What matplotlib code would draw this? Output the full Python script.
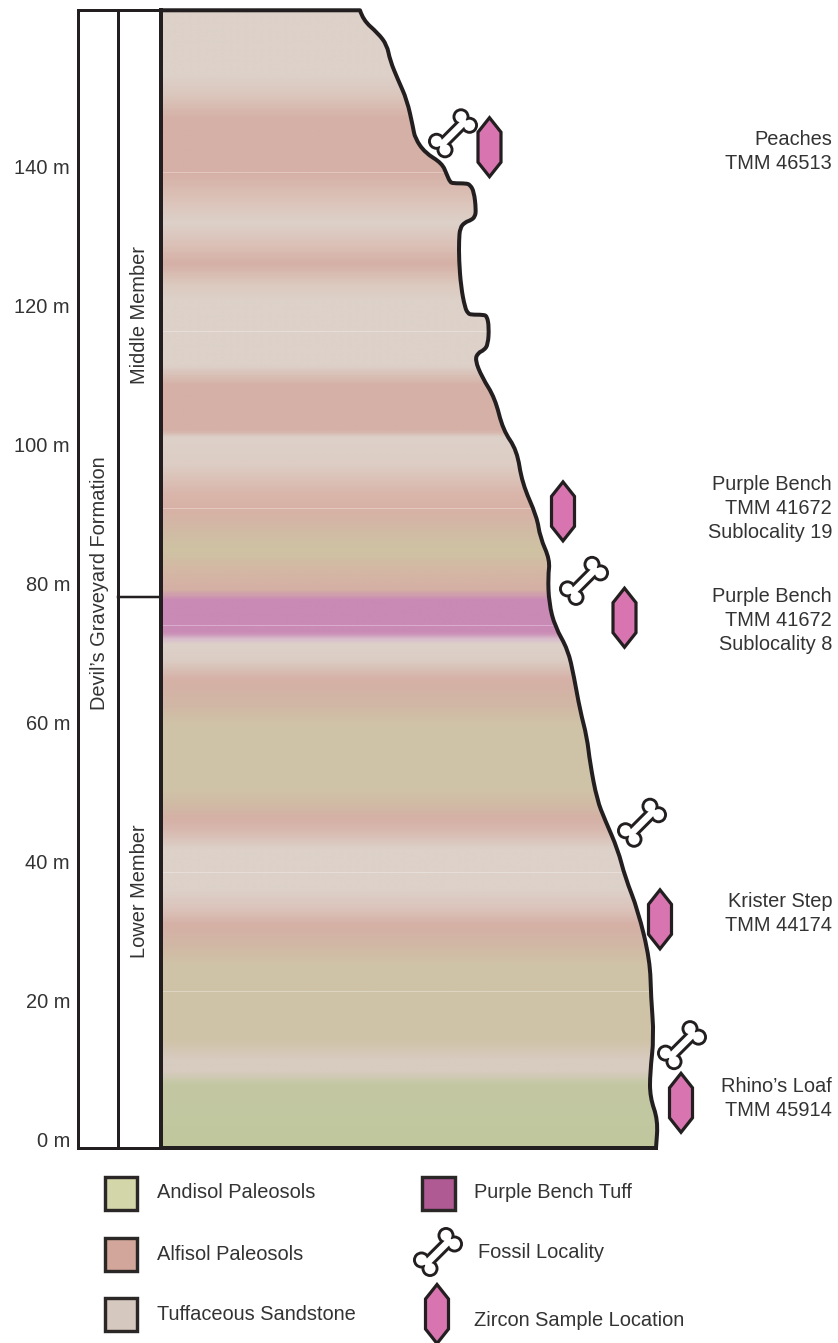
import numpy as np
import matplotlib
matplotlib.use("Agg")
import matplotlib.pyplot as plt
from matplotlib.colors import LinearSegmentedColormap
from matplotlib.path import Path
from matplotlib.patches import PathPatch, Circle, Rectangle, Polygon
from matplotlib.transforms import Affine2D

plt.rcParams['font.family'] = ['Liberation Sans', 'DejaVu Sans']

# ---------------- data ----------------
tick_values = [0, 20, 40, 60, 80, 100, 120, 140]
tick_labels = ['0 m', '20 m', '40 m', '60 m', '80 m', '100 m', '120 m', '140 m']

profile_x = [161, 360, 363, 378, 387, 390, 398, 407, 413, 415, 425, 442, 447, 450, 453, 466, 470,
             474, 476, 475, 471, 465, 460, 459, 459, 461, 465, 468, 471, 483, 487, 489, 488, 484,
             478, 475, 482, 495, 503, 517, 522, 537, 540, 550, 548, 549, 555, 568, 574, 580, 587,
             590, 597, 605, 618, 625, 638, 650, 651, 654, 650, 650, 658, 656]
profile_m = [163.7, 163.7, 162.3, 160.4, 158.7, 156.5, 153.7, 150.8, 146.9, 145.3, 143.2, 141.7,
             140.0, 139.0, 138.8, 138.8, 138.6, 137.6, 135.0, 134.0, 133.5, 133.2, 132.4, 130.6,
             127.8, 123.9, 120.9, 120.1, 119.9, 119.9, 119.7, 118.1, 115.6, 114.8, 114.4, 113.4,
             110.9, 107.9, 103.3, 100.4, 95.7, 90.8, 87.9, 84.6, 82.2, 78.4, 75.0, 71.7, 67.8,
             63.0, 59.1, 55.4, 50.1, 47.2, 42.9, 39.0, 34.2, 27.0, 21.7, 16.0, 10.8, 7.3, 4.0, 0.0]

T, A, G, P = '#DDD1C9', '#D5B0A6', '#CFC3A7', '#C98AB5'
band_m = [0.0, 9.1, 10.9, 12.7, 15.5, 26.3, 29.2, 32.1, 34.2, 37.1, 42.9, 45.5, 47.2, 48.6,
          51.5, 60.9, 63.7, 67.3, 70.2, 72.4, 73.1, 74.2, 78.8, 80.3, 83.2, 86.0, 88.9, 91.8,
          94.0, 98.3, 102.2, 103.3, 109.8, 112.7, 122.0, 124.2, 127.3, 129.9, 133.2, 136.4,
          140.4, 148.2, 151.5, 154.4, 164.0]
band_colors = ['#C0C79D', '#C3C8A3', '#D8CBC0', '#D8CBC0', G, G, '#D1B7A5', A, '#DBC3BA', T, T,
               '#D8BAB0', A, '#D2B7A5', G, G, '#D1B7A5', A, '#DCCDC4', T, '#D9C0CC', P, P,
               '#D4AFA5', '#D4B8A4', '#CEC3A3', '#D1BAA5', '#D7B1A6', '#D9B5AA', '#DDCDC4', T, A,
               A, T, T, '#DCCABF', A, '#DBC0B6', T, '#DCC3B9', A, A, '#DBC6BC', T, T]

seam_m = [140.4, 117.6, 92.1, 75.3, 39.7, 22.6]

fossil_x = [453, 584, 642, 682]
fossil_m = [146.0, 81.6, 46.8, 14.8]
zircon_x = [489.5, 563, 624.5, 660, 681]
zircon_m = [144.0, 91.6, 76.3, 32.9, 6.5]

site_names = ['Peaches\nTMM 46513', 'Purple Bench\nTMM 41672\nSublocality 19',
              'Purple Bench\nTMM 41672\nSublocality 8', 'Krister Step\nTMM 44174',
              'Rhino\u2019s Loaf\nTMM 45914']
site_m = [143.4, 92.0, 75.9, 33.7, 7.1]

member_names = ['Middle Member', 'Lower Member']
member_m = [119.8, 37.0]
member_boundary_m = 79.3
formation_name = "Devil\u2019s Graveyard Formation"

legend_swatches = ['Andisol Paleosols', 'Alfisol Paleosols', 'Tuffaceous Sandstone', 'Purple Bench Tuff']
legend_colors = ['#D3D6A8', '#D2A69A', '#D5C8BE', '#B05A94']

# ---------------- figure ----------------
W, H = 838, 1343
PX_PER_M = 6.95
BASE_PX = 1148
fig = plt.figure(figsize=(W / 100, H / 100), dpi=100)
ax = fig.add_axes([0, 0, 1, 1])
ax.set_xlim(0, W)
ax.set_ylim((BASE_PX - H) / PX_PER_M, BASE_PX / PX_PER_M)
ax.axis('off')

INK = '#231F20'
TXT = '#333333'
FS = 14.4
px = 0.72  # one image pixel, in points


def m_of(pixel_y):
    return (BASE_PX - pixel_y) / PX_PER_M


def smooth_path(xs, ys):
    pts = np.column_stack([xs, ys])
    verts, codes = [pts[0], pts[1]], [Path.MOVETO, Path.LINETO]
    for i in range(2, len(pts) - 1):
        mid = (pts[i] + pts[i + 1]) / 2
        verts += [pts[i], mid]
        codes += [Path.CURVE3, Path.CURVE3]
    verts.append(pts[-1])
    codes.append(Path.LINETO)
    return Path(verts, codes)


outline = smooth_path(profile_x, profile_m)

# filled section
cmap_stops = [(m / band_m[-1], c) for m, c in zip(band_m, band_colors)]
cmap = LinearSegmentedColormap.from_list('strata', cmap_stops, N=1024)
img = ax.imshow(np.linspace(0, 1, 1200)[:, None], extent=(161, 665, 0, band_m[-1]), origin='lower',
                aspect='auto', cmap=cmap, vmin=0, vmax=1, zorder=1, interpolation='bilinear')
ax.set_xlim(0, W)
ax.set_ylim((BASE_PX - H) / PX_PER_M, BASE_PX / PX_PER_M)
clip_verts = np.vstack([outline.vertices, [[656, 0], [161, 0], [161, 163.7]]])
clip_codes = list(outline.codes) + [Path.LINETO, Path.LINETO, Path.CLOSEPOLY]
clip = PathPatch(Path(clip_verts, clip_codes), transform=ax.transData, fc='none', ec='none')
ax.add_patch(clip)
img.set_clip_path(clip)

for s in seam_m:
    ln, = ax.plot([163, 660], [s, s], color='white', alpha=0.3, lw=1 * px, zorder=2)
    ln.set_clip_path(clip)

# profile line
ax.add_patch(PathPatch(outline, fc='none', ec=INK, lw=4 * px, zorder=4, capstyle='round', joinstyle='round'))
top = m_of(10)
ax.plot([161, 656], [0, 0], color=INK, lw=4 * px, zorder=4, solid_capstyle='projecting')
ax.plot([161, 161], [0, 163.7], color=INK, lw=4 * px, zorder=4, solid_capstyle='projecting')

# columns
ax.plot([78, 78], [0, top], color=INK, lw=3 * px, zorder=4, solid_capstyle='projecting')
ax.plot([118, 118], [0, top], color=INK, lw=3 * px, zorder=4, solid_capstyle='projecting')
ax.plot([78, 161], [top, top], color=INK, lw=3 * px, zorder=4)
ax.plot([78, 161], [0, 0], color=INK, lw=3 * px, zorder=4)
ax.plot([118, 161], [member_boundary_m, member_boundary_m], color=INK, lw=2.5 * px, zorder=4)

ax.text(99, m_of(583), formation_name, rotation=90, ha='center', va='center', fontsize=FS, color=TXT)
for name, m in zip(member_names, member_m):
    ax.text(139.5, m, name, rotation=90, ha='center', va='center', fontsize=FS, color=TXT)

# elevation labels
for v, lab in zip(tick_values, tick_labels):
    ax.annotate(lab, (70, v), xytext=(0, 6.5), textcoords='offset pixels', ha='right', va='center',
                fontsize=FS, color=TXT)

# site labels
for name, m in zip(site_names, site_m):
    ax.text(832, m, name, ha='right', va='center', fontsize=FS, color=TXT, linespacing=1.31,
            multialignment='right')


def at(x, m):
    """local symbol coordinates in image pixels (y down) centred on a data location"""
    dx, dy = ax.transData.transform((x, m))
    return Affine2D().scale(1, -1).translate(dx, dy)


def bone(x, m):
    tr = at(x, m)
    lobes = [(8, -16.5), (16.5, -8), (-16.5, 8), (-8, 16.5)]
    shaft = [(13, -13), (-13, 13)]
    for lobe in lobes:
        ax.add_patch(Circle(lobe, 8.5, transform=tr, fc=INK, ec='none', zorder=5))
    ax.plot(*zip(*shaft), transform=tr, color=INK, lw=12.5 * px, zorder=5, solid_capstyle='butt')
    for lobe in lobes:
        ax.add_patch(Circle(lobe, 5.6, transform=tr, fc='white', ec='none', zorder=6))
    ax.plot(*zip(*shaft), transform=tr, color='white', lw=6.5 * px, zorder=6, solid_capstyle='butt')


def zircon(x, m):
    hexagon = [(0, -29.5), (11.5, -15), (11.5, 15), (0, 29.5), (-11.5, 15), (-11.5, -15)]
    ax.add_patch(Polygon(hexagon, closed=True, transform=at(x, m), fc='#D875B0', ec=INK,
                         lw=3.2 * px, zorder=5, joinstyle='miter'))


for x, m in zip(fossil_x, fossil_m):
    bone(x, m)
for x, m in zip(zircon_x, zircon_m):
    zircon(x, m)

# legend
swatch_x = [121, 121, 121, 438.5]
swatch_py = [1193.5, 1254.5, 1314.5, 1193.5]
label_x = [157, 157, 157, 474]
label_py = [1193, 1254.5, 1315, 1193]
for name, col, sx, spy, lx, lpy in zip(legend_swatches, legend_colors, swatch_x, swatch_py, label_x, label_py):
    ax.add_patch(Rectangle((-16.3, -16.3), 32.6, 32.6, transform=at(sx, m_of(spy)), fc=col, ec='#2B2727',
                           lw=3.4 * px, zorder=5, joinstyle='miter'))
    ax.text(lx, m_of(lpy), name, ha='left', va='center', fontsize=FS, color=TXT)
bone(438, m_of(1252))
ax.text(478, m_of(1253), 'Fossil Locality', ha='left', va='center', fontsize=FS, color=TXT)
zircon(437, m_of(1314))
ax.text(474, m_of(1321), 'Zircon Sample Location', ha='left', va='center', fontsize=FS, color=TXT)

fig.savefig('out.png', dpi=100, facecolor='white')
